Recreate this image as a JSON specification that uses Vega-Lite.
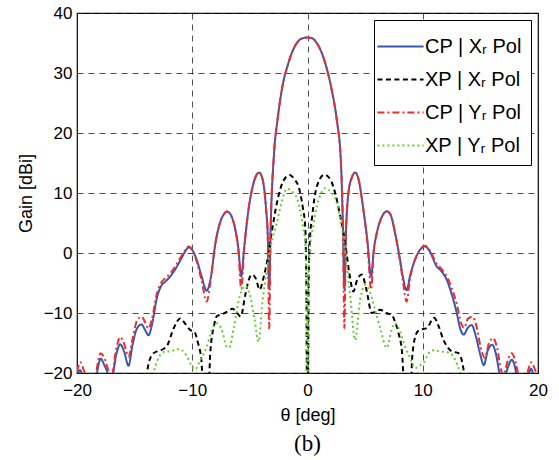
{
  "$schema": "https://vega.github.io/schema/vega-lite/v6.json",
  "width": 461,
  "height": 360,
  "autosize": {"type": "none"},
  "padding": {"left": 77, "top": 13, "right": 21, "bottom": 87},
  "background": "white",
  "config": {
    "font": "Liberation Sans",
    "view": {"stroke": "black", "strokeWidth": 1.2},
    "axis": {
      "labelFont": "Liberation Sans", "labelFontSize": 17, "labelColor": "black",
      "titleFont": "Liberation Sans", "titleFontSize": 18, "titleFontWeight": "normal", "titleColor": "black",
      "domain": false, "ticks": false,
      "grid": true, "gridColor": "#222", "gridDash": [6, 5], "gridWidth": 1, "gridOpacity": 0.8
    },
    "legend": {
      "title": null, "orient": "top-right", "offset": 7,
      "strokeColor": "black", "fillColor": "white", "padding": 9,
      "labelFont": "Liberation Sans", "labelFontSize": 20, "labelColor": "black", "labelOffset": 7,
      "symbolType": "M-1.4,0H1.4", "symbolSize": 1089, "symbolStrokeWidth": 2, "rowPadding": 5, "labelLimit": 250
    }
  },
  "title": {"text": "(b)", "orient": "bottom", "font": "Liberation Serif", "fontSize": 23, "fontWeight": "normal", "color": "black", "offset": 9},
  "data": {"values": [
    {"series":"CP | Xᵣ Pol","theta":-20.0,"gain":-20.8},
    {"series":"CP | Xᵣ Pol","theta":-19.75,"gain":-19.5},
    {"series":"CP | Xᵣ Pol","theta":-19.5,"gain":-20.6},
    {"series":"CP | Xᵣ Pol","theta":-19.0,"gain":-25},
    {"series":"CP | Xᵣ Pol","theta":-18.3,"gain":-20.2},
    {"series":"CP | Xᵣ Pol","theta":-17.95,"gain":-17.6},
    {"series":"CP | Xᵣ Pol","theta":-17.6,"gain":-18.8},
    {"series":"CP | Xᵣ Pol","theta":-17.0,"gain":-21},
    {"series":"CP | Xᵣ Pol","theta":-16.6,"gain":-17},
    {"series":"CP | Xᵣ Pol","theta":-16.25,"gain":-15.2},
    {"series":"CP | Xᵣ Pol","theta":-15.9,"gain":-16.5},
    {"series":"CP | Xᵣ Pol","theta":-15.53,"gain":-18.8},
    {"series":"CP | Xᵣ Pol","theta":-15.2,"gain":-15.5},
    {"series":"CP | Xᵣ Pol","theta":-14.8,"gain":-12.6},
    {"series":"CP | Xᵣ Pol","theta":-14.4,"gain":-11.9},
    {"series":"CP | Xᵣ Pol","theta":-14.1,"gain":-12.8},
    {"series":"CP | Xᵣ Pol","theta":-13.8,"gain":-13.7},
    {"series":"CP | Xᵣ Pol","theta":-13.5,"gain":-12},
    {"series":"CP | Xᵣ Pol","theta":-13.07,"gain":-7.5},
    {"series":"CP | Xᵣ Pol","theta":-12.7,"gain":-5.5},
    {"series":"CP | Xᵣ Pol","theta":-12.35,"gain":-4.8},
    {"series":"CP | Xᵣ Pol","theta":-12.0,"gain":-4.1},
    {"series":"CP | Xᵣ Pol","theta":-11.5,"gain":-2.8},
    {"series":"CP | Xᵣ Pol","theta":-11.0,"gain":-1.1},
    {"series":"CP | Xᵣ Pol","theta":-10.6,"gain":0.3},
    {"series":"CP | Xᵣ Pol","theta":-10.3,"gain":0.95},
    {"series":"CP | Xᵣ Pol","theta":-10.0,"gain":0.5},
    {"series":"CP | Xᵣ Pol","theta":-9.6,"gain":-1.2},
    {"series":"CP | Xᵣ Pol","theta":-9.2,"gain":-3.8},
    {"series":"CP | Xᵣ Pol","theta":-8.75,"gain":-6.3},
    {"series":"CP | Xᵣ Pol","theta":-8.4,"gain":-4.2},
    {"series":"CP | Xᵣ Pol","theta":-8.0,"gain":1.5},
    {"series":"CP | Xᵣ Pol","theta":-7.6,"gain":5.0},
    {"series":"CP | Xᵣ Pol","theta":-7.2,"gain":6.6},
    {"series":"CP | Xᵣ Pol","theta":-7.0,"gain":6.9},
    {"series":"CP | Xᵣ Pol","theta":-6.7,"gain":6.5},
    {"series":"CP | Xᵣ Pol","theta":-6.3,"gain":4.2},
    {"series":"CP | Xᵣ Pol","theta":-6.0,"gain":0.8},
    {"series":"CP | Xᵣ Pol","theta":-5.75,"gain":-3.9},
    {"series":"CP | Xᵣ Pol","theta":-5.5,"gain":0.8},
    {"series":"CP | Xᵣ Pol","theta":-5.1,"gain":7.5},
    {"series":"CP | Xᵣ Pol","theta":-4.7,"gain":11.5},
    {"series":"CP | Xᵣ Pol","theta":-4.4,"gain":13.1},
    {"series":"CP | Xᵣ Pol","theta":-4.2,"gain":13.4},
    {"series":"CP | Xᵣ Pol","theta":-3.9,"gain":12.3},
    {"series":"CP | Xᵣ Pol","theta":-3.6,"gain":7.5},
    {"series":"CP | Xᵣ Pol","theta":-3.45,"gain":3},
    {"series":"CP | Xᵣ Pol","theta":-3.32,"gain":-6},
    {"series":"CP | Xᵣ Pol","theta":-3.2,"gain":4},
    {"series":"CP | Xᵣ Pol","theta":-2.9,"gain":16.7},
    {"series":"CP | Xᵣ Pol","theta":-2.6,"gain":22.2},
    {"series":"CP | Xᵣ Pol","theta":-2.23,"gain":27.2},
    {"series":"CP | Xᵣ Pol","theta":-1.65,"gain":31.7},
    {"series":"CP | Xᵣ Pol","theta":-0.93,"gain":35.0},
    {"series":"CP | Xᵣ Pol","theta":-0.4,"gain":35.8},
    {"series":"CP | Xᵣ Pol","theta":0.0,"gain":35.9},
    {"series":"CP | Xᵣ Pol","theta":0.4,"gain":35.8},
    {"series":"CP | Xᵣ Pol","theta":0.8,"gain":35.0},
    {"series":"CP | Xᵣ Pol","theta":1.53,"gain":31.7},
    {"series":"CP | Xᵣ Pol","theta":2.1,"gain":27.2},
    {"series":"CP | Xᵣ Pol","theta":2.54,"gain":22.2},
    {"series":"CP | Xᵣ Pol","theta":2.89,"gain":15.5},
    {"series":"CP | Xᵣ Pol","theta":3.08,"gain":4},
    {"series":"CP | Xᵣ Pol","theta":3.2,"gain":-6},
    {"series":"CP | Xᵣ Pol","theta":3.33,"gain":3},
    {"series":"CP | Xᵣ Pol","theta":3.55,"gain":10.0},
    {"series":"CP | Xᵣ Pol","theta":3.85,"gain":12.6},
    {"series":"CP | Xᵣ Pol","theta":4.13,"gain":13.4},
    {"series":"CP | Xᵣ Pol","theta":4.4,"gain":12.5},
    {"series":"CP | Xᵣ Pol","theta":4.85,"gain":7.2},
    {"series":"CP | Xᵣ Pol","theta":5.2,"gain":2.0},
    {"series":"CP | Xᵣ Pol","theta":5.52,"gain":-3.9},
    {"series":"CP | Xᵣ Pol","theta":5.75,"gain":0.5},
    {"series":"CP | Xᵣ Pol","theta":6.01,"gain":3.3},
    {"series":"CP | Xᵣ Pol","theta":6.4,"gain":5.8},
    {"series":"CP | Xᵣ Pol","theta":6.88,"gain":6.94},
    {"series":"CP | Xᵣ Pol","theta":7.2,"gain":6.4},
    {"series":"CP | Xᵣ Pol","theta":7.6,"gain":3.3},
    {"series":"CP | Xᵣ Pol","theta":8.0,"gain":-0.8},
    {"series":"CP | Xᵣ Pol","theta":8.3,"gain":-4.2},
    {"series":"CP | Xᵣ Pol","theta":8.6,"gain":-6.2},
    {"series":"CP | Xᵣ Pol","theta":8.9,"gain":-3.8},
    {"series":"CP | Xᵣ Pol","theta":9.33,"gain":-1.1},
    {"series":"CP | Xᵣ Pol","theta":9.8,"gain":0.6},
    {"series":"CP | Xᵣ Pol","theta":10.2,"gain":1.1},
    {"series":"CP | Xᵣ Pol","theta":10.6,"gain":0.3},
    {"series":"CP | Xᵣ Pol","theta":11.2,"gain":-2.2},
    {"series":"CP | Xᵣ Pol","theta":11.6,"gain":-3.0},
    {"series":"CP | Xᵣ Pol","theta":12.08,"gain":-4.45},
    {"series":"CP | Xᵣ Pol","theta":12.5,"gain":-6.8},
    {"series":"CP | Xᵣ Pol","theta":12.95,"gain":-10},
    {"series":"CP | Xᵣ Pol","theta":13.25,"gain":-12.6},
    {"series":"CP | Xᵣ Pol","theta":13.55,"gain":-13.6},
    {"series":"CP | Xᵣ Pol","theta":13.9,"gain":-12.5},
    {"series":"CP | Xᵣ Pol","theta":14.25,"gain":-12.0},
    {"series":"CP | Xᵣ Pol","theta":14.6,"gain":-13.8},
    {"series":"CP | Xᵣ Pol","theta":15.0,"gain":-17},
    {"series":"CP | Xᵣ Pol","theta":15.3,"gain":-18.7},
    {"series":"CP | Xᵣ Pol","theta":15.65,"gain":-16.2},
    {"series":"CP | Xᵣ Pol","theta":16.03,"gain":-15.3},
    {"series":"CP | Xᵣ Pol","theta":16.35,"gain":-16.8},
    {"series":"CP | Xᵣ Pol","theta":16.7,"gain":-20.3},
    {"series":"CP | Xᵣ Pol","theta":17.0,"gain":-21},
    {"series":"CP | Xᵣ Pol","theta":17.4,"gain":-19},
    {"series":"CP | Xᵣ Pol","theta":17.72,"gain":-17.8},
    {"series":"CP | Xᵣ Pol","theta":18.0,"gain":-19},
    {"series":"CP | Xᵣ Pol","theta":18.15,"gain":-20.5},
    {"series":"CP | Xᵣ Pol","theta":18.8,"gain":-23},
    {"series":"CP | Xᵣ Pol","theta":19.15,"gain":-20.5},
    {"series":"CP | Xᵣ Pol","theta":19.4,"gain":-19.3},
    {"series":"CP | Xᵣ Pol","theta":19.65,"gain":-20.5},
    {"series":"CP | Xᵣ Pol","theta":20.0,"gain":-21},

    {"series":"XP | Xᵣ Pol","theta":-14.3,"gain":-25},
    {"series":"XP | Xᵣ Pol","theta":-14.0,"gain":-21},
    {"series":"XP | Xᵣ Pol","theta":-13.8,"gain":-18.5},
    {"series":"XP | Xᵣ Pol","theta":-13.36,"gain":-16.7},
    {"series":"XP | Xᵣ Pol","theta":-12.9,"gain":-16.3},
    {"series":"XP | Xᵣ Pol","theta":-12.5,"gain":-16.0},
    {"series":"XP | Xᵣ Pol","theta":-12.2,"gain":-15.5},
    {"series":"XP | Xᵣ Pol","theta":-11.6,"gain":-12.5},
    {"series":"XP | Xᵣ Pol","theta":-11.05,"gain":-10.9},
    {"series":"XP | Xᵣ Pol","theta":-10.6,"gain":-11.8},
    {"series":"XP | Xᵣ Pol","theta":-10.2,"gain":-12.8},
    {"series":"XP | Xᵣ Pol","theta":-9.8,"gain":-13.2},
    {"series":"XP | Xᵣ Pol","theta":-9.5,"gain":-15},
    {"series":"XP | Xᵣ Pol","theta":-9.2,"gain":-18},
    {"series":"XP | Xᵣ Pol","theta":-9.0,"gain":-25},
    {"series":"XP | Xᵣ Pol","theta":-8.6,"gain":-25},
    {"series":"XP | Xᵣ Pol","theta":-8.45,"gain":-17},
    {"series":"XP | Xᵣ Pol","theta":-8.1,"gain":-12.0},
    {"series":"XP | Xᵣ Pol","theta":-7.85,"gain":-10.5},
    {"series":"XP | Xᵣ Pol","theta":-7.4,"gain":-10.2},
    {"series":"XP | Xᵣ Pol","theta":-7.0,"gain":-9.8},
    {"series":"XP | Xᵣ Pol","theta":-6.5,"gain":-9.3},
    {"series":"XP | Xᵣ Pol","theta":-6.1,"gain":-10.0},
    {"series":"XP | Xᵣ Pol","theta":-5.8,"gain":-10.6},
    {"series":"XP | Xᵣ Pol","theta":-5.4,"gain":-7},
    {"series":"XP | Xᵣ Pol","theta":-5.1,"gain":-4.5},
    {"series":"XP | Xᵣ Pol","theta":-4.8,"gain":-3.6},
    {"series":"XP | Xᵣ Pol","theta":-4.5,"gain":-4.2},
    {"series":"XP | Xᵣ Pol","theta":-4.15,"gain":-6.1},
    {"series":"XP | Xᵣ Pol","theta":-3.8,"gain":-4},
    {"series":"XP | Xᵣ Pol","theta":-3.47,"gain":-1.1},
    {"series":"XP | Xᵣ Pol","theta":-3.1,"gain":3.5},
    {"series":"XP | Xᵣ Pol","theta":-2.66,"gain":8.3},
    {"series":"XP | Xᵣ Pol","theta":-2.1,"gain":12.0},
    {"series":"XP | Xᵣ Pol","theta":-1.56,"gain":13.0},
    {"series":"XP | Xᵣ Pol","theta":-1.1,"gain":12.2},
    {"series":"XP | Xᵣ Pol","theta":-0.78,"gain":11.1},
    {"series":"XP | Xᵣ Pol","theta":-0.4,"gain":7.5},
    {"series":"XP | Xᵣ Pol","theta":-0.2,"gain":4.4},
    {"series":"XP | Xᵣ Pol","theta":-0.1,"gain":-5},
    {"series":"XP | Xᵣ Pol","theta":0.0,"gain":-40},
    {"series":"XP | Xᵣ Pol","theta":0.1,"gain":-5},
    {"series":"XP | Xᵣ Pol","theta":0.2,"gain":2},
    {"series":"XP | Xᵣ Pol","theta":0.4,"gain":6},
    {"series":"XP | Xᵣ Pol","theta":0.81,"gain":11.1},
    {"series":"XP | Xᵣ Pol","theta":1.47,"gain":13.05},
    {"series":"XP | Xᵣ Pol","theta":2.0,"gain":12.2},
    {"series":"XP | Xᵣ Pol","theta":2.4,"gain":10.0},
    {"series":"XP | Xᵣ Pol","theta":2.8,"gain":6.5},
    {"series":"XP | Xᵣ Pol","theta":3.27,"gain":1.7},
    {"series":"XP | Xᵣ Pol","theta":3.6,"gain":-3},
    {"series":"XP | Xᵣ Pol","theta":3.99,"gain":-6.4},
    {"series":"XP | Xᵣ Pol","theta":4.3,"gain":-4.5},
    {"series":"XP | Xᵣ Pol","theta":4.71,"gain":-3.6},
    {"series":"XP | Xᵣ Pol","theta":5.1,"gain":-6},
    {"series":"XP | Xᵣ Pol","theta":5.58,"gain":-10},
    {"series":"XP | Xᵣ Pol","theta":5.9,"gain":-9.8},
    {"series":"XP | Xᵣ Pol","theta":6.3,"gain":-9.45},
    {"series":"XP | Xᵣ Pol","theta":6.8,"gain":-10},
    {"series":"XP | Xᵣ Pol","theta":7.31,"gain":-10.3},
    {"series":"XP | Xᵣ Pol","theta":7.6,"gain":-11.5},
    {"series":"XP | Xᵣ Pol","theta":7.89,"gain":-13.3},
    {"series":"XP | Xᵣ Pol","theta":8.2,"gain":-16.5},
    {"series":"XP | Xᵣ Pol","theta":8.47,"gain":-25},
    {"series":"XP | Xᵣ Pol","theta":8.9,"gain":-25},
    {"series":"XP | Xᵣ Pol","theta":9.1,"gain":-17},
    {"series":"XP | Xᵣ Pol","theta":9.48,"gain":-13.3},
    {"series":"XP | Xᵣ Pol","theta":9.77,"gain":-12.8},
    {"series":"XP | Xᵣ Pol","theta":10.35,"gain":-12.5},
    {"series":"XP | Xᵣ Pol","theta":10.99,"gain":-10.8},
    {"series":"XP | Xᵣ Pol","theta":11.4,"gain":-12.3},
    {"series":"XP | Xᵣ Pol","theta":11.8,"gain":-14.5},
    {"series":"XP | Xᵣ Pol","theta":12.2,"gain":-15.8},
    {"series":"XP | Xᵣ Pol","theta":12.52,"gain":-16.4},
    {"series":"XP | Xᵣ Pol","theta":13.1,"gain":-16.7},
    {"series":"XP | Xᵣ Pol","theta":13.4,"gain":-18},
    {"series":"XP | Xᵣ Pol","theta":13.67,"gain":-21},
    {"series":"XP | Xᵣ Pol","theta":14.0,"gain":-25},

    {"series":"CP | Yᵣ Pol","theta":-20.0,"gain":-19.8},
    {"series":"CP | Yᵣ Pol","theta":-19.7,"gain":-18.2},
    {"series":"CP | Yᵣ Pol","theta":-19.4,"gain":-19.6},
    {"series":"CP | Yᵣ Pol","theta":-19.1,"gain":-21},
    {"series":"CP | Yᵣ Pol","theta":-18.6,"gain":-24},
    {"series":"CP | Yᵣ Pol","theta":-18.3,"gain":-19.5},
    {"series":"CP | Yᵣ Pol","theta":-17.95,"gain":-16.7},
    {"series":"CP | Yᵣ Pol","theta":-17.6,"gain":-17.6},
    {"series":"CP | Yᵣ Pol","theta":-17.2,"gain":-20},
    {"series":"CP | Yᵣ Pol","theta":-17.0,"gain":-20.5},
    {"series":"CP | Yᵣ Pol","theta":-16.6,"gain":-16},
    {"series":"CP | Yᵣ Pol","theta":-16.25,"gain":-14.0},
    {"series":"CP | Yᵣ Pol","theta":-15.9,"gain":-15.2},
    {"series":"CP | Yᵣ Pol","theta":-15.53,"gain":-17.3},
    {"series":"CP | Yᵣ Pol","theta":-15.2,"gain":-14.5},
    {"series":"CP | Yᵣ Pol","theta":-14.8,"gain":-11.3},
    {"series":"CP | Yᵣ Pol","theta":-14.4,"gain":-10.6},
    {"series":"CP | Yᵣ Pol","theta":-14.1,"gain":-11.5},
    {"series":"CP | Yᵣ Pol","theta":-13.8,"gain":-12.6},
    {"series":"CP | Yᵣ Pol","theta":-13.5,"gain":-11},
    {"series":"CP | Yᵣ Pol","theta":-13.07,"gain":-6.8},
    {"series":"CP | Yᵣ Pol","theta":-12.7,"gain":-5.0},
    {"series":"CP | Yᵣ Pol","theta":-12.35,"gain":-4.2},
    {"series":"CP | Yᵣ Pol","theta":-12.0,"gain":-3.6},
    {"series":"CP | Yᵣ Pol","theta":-11.5,"gain":-2.3},
    {"series":"CP | Yᵣ Pol","theta":-11.0,"gain":-0.7},
    {"series":"CP | Yᵣ Pol","theta":-10.6,"gain":0.5},
    {"series":"CP | Yᵣ Pol","theta":-10.3,"gain":1.1},
    {"series":"CP | Yᵣ Pol","theta":-10.0,"gain":0.5},
    {"series":"CP | Yᵣ Pol","theta":-9.6,"gain":-1.5},
    {"series":"CP | Yᵣ Pol","theta":-9.2,"gain":-4.5},
    {"series":"CP | Yᵣ Pol","theta":-8.75,"gain":-8.1},
    {"series":"CP | Yᵣ Pol","theta":-8.4,"gain":-4.5},
    {"series":"CP | Yᵣ Pol","theta":-8.0,"gain":1.5},
    {"series":"CP | Yᵣ Pol","theta":-7.6,"gain":5.0},
    {"series":"CP | Yᵣ Pol","theta":-7.2,"gain":6.6},
    {"series":"CP | Yᵣ Pol","theta":-7.0,"gain":6.9},
    {"series":"CP | Yᵣ Pol","theta":-6.7,"gain":6.5},
    {"series":"CP | Yᵣ Pol","theta":-6.3,"gain":4.2},
    {"series":"CP | Yᵣ Pol","theta":-6.0,"gain":0.5},
    {"series":"CP | Yᵣ Pol","theta":-5.75,"gain":-6.0},
    {"series":"CP | Yᵣ Pol","theta":-5.5,"gain":0.5},
    {"series":"CP | Yᵣ Pol","theta":-5.1,"gain":7.5},
    {"series":"CP | Yᵣ Pol","theta":-4.7,"gain":11.5},
    {"series":"CP | Yᵣ Pol","theta":-4.4,"gain":13.1},
    {"series":"CP | Yᵣ Pol","theta":-4.2,"gain":13.4},
    {"series":"CP | Yᵣ Pol","theta":-3.9,"gain":12.3},
    {"series":"CP | Yᵣ Pol","theta":-3.6,"gain":7.5},
    {"series":"CP | Yᵣ Pol","theta":-3.45,"gain":3},
    {"series":"CP | Yᵣ Pol","theta":-3.32,"gain":-12.6},
    {"series":"CP | Yᵣ Pol","theta":-3.2,"gain":4},
    {"series":"CP | Yᵣ Pol","theta":-2.9,"gain":16.7},
    {"series":"CP | Yᵣ Pol","theta":-2.6,"gain":22.2},
    {"series":"CP | Yᵣ Pol","theta":-2.23,"gain":27.2},
    {"series":"CP | Yᵣ Pol","theta":-1.65,"gain":31.7},
    {"series":"CP | Yᵣ Pol","theta":-0.93,"gain":35.0},
    {"series":"CP | Yᵣ Pol","theta":-0.4,"gain":35.8},
    {"series":"CP | Yᵣ Pol","theta":0.0,"gain":35.9},
    {"series":"CP | Yᵣ Pol","theta":0.4,"gain":35.8},
    {"series":"CP | Yᵣ Pol","theta":0.8,"gain":35.0},
    {"series":"CP | Yᵣ Pol","theta":1.53,"gain":31.7},
    {"series":"CP | Yᵣ Pol","theta":2.1,"gain":27.2},
    {"series":"CP | Yᵣ Pol","theta":2.54,"gain":22.2},
    {"series":"CP | Yᵣ Pol","theta":2.89,"gain":15.5},
    {"series":"CP | Yᵣ Pol","theta":3.08,"gain":4},
    {"series":"CP | Yᵣ Pol","theta":3.2,"gain":-12.5},
    {"series":"CP | Yᵣ Pol","theta":3.33,"gain":3},
    {"series":"CP | Yᵣ Pol","theta":3.55,"gain":10.0},
    {"series":"CP | Yᵣ Pol","theta":3.85,"gain":12.6},
    {"series":"CP | Yᵣ Pol","theta":4.13,"gain":13.4},
    {"series":"CP | Yᵣ Pol","theta":4.4,"gain":12.5},
    {"series":"CP | Yᵣ Pol","theta":4.85,"gain":7.2},
    {"series":"CP | Yᵣ Pol","theta":5.2,"gain":1.5},
    {"series":"CP | Yᵣ Pol","theta":5.52,"gain":-6.1},
    {"series":"CP | Yᵣ Pol","theta":5.75,"gain":0.3},
    {"series":"CP | Yᵣ Pol","theta":6.01,"gain":3.3},
    {"series":"CP | Yᵣ Pol","theta":6.4,"gain":5.8},
    {"series":"CP | Yᵣ Pol","theta":6.88,"gain":6.94},
    {"series":"CP | Yᵣ Pol","theta":7.2,"gain":6.4},
    {"series":"CP | Yᵣ Pol","theta":7.6,"gain":3.3},
    {"series":"CP | Yᵣ Pol","theta":8.0,"gain":-1.0},
    {"series":"CP | Yᵣ Pol","theta":8.3,"gain":-5.0},
    {"series":"CP | Yᵣ Pol","theta":8.6,"gain":-8.1},
    {"series":"CP | Yᵣ Pol","theta":8.9,"gain":-4.2},
    {"series":"CP | Yᵣ Pol","theta":9.33,"gain":-1.1},
    {"series":"CP | Yᵣ Pol","theta":9.8,"gain":0.7},
    {"series":"CP | Yᵣ Pol","theta":10.2,"gain":1.2},
    {"series":"CP | Yᵣ Pol","theta":10.6,"gain":0.5},
    {"series":"CP | Yᵣ Pol","theta":11.2,"gain":-1.8},
    {"series":"CP | Yᵣ Pol","theta":11.6,"gain":-2.6},
    {"series":"CP | Yᵣ Pol","theta":12.08,"gain":-3.9},
    {"series":"CP | Yᵣ Pol","theta":12.5,"gain":-5.8},
    {"series":"CP | Yᵣ Pol","theta":12.95,"gain":-8.5},
    {"series":"CP | Yᵣ Pol","theta":13.3,"gain":-11.5},
    {"series":"CP | Yᵣ Pol","theta":13.6,"gain":-12.5},
    {"series":"CP | Yᵣ Pol","theta":13.9,"gain":-11},
    {"series":"CP | Yᵣ Pol","theta":14.3,"gain":-10.6},
    {"series":"CP | Yᵣ Pol","theta":14.7,"gain":-12.5},
    {"series":"CP | Yᵣ Pol","theta":15.0,"gain":-15.5},
    {"series":"CP | Yᵣ Pol","theta":15.4,"gain":-17.5},
    {"series":"CP | Yᵣ Pol","theta":15.75,"gain":-15},
    {"series":"CP | Yᵣ Pol","theta":16.1,"gain":-14.2},
    {"series":"CP | Yᵣ Pol","theta":16.45,"gain":-15.8},
    {"series":"CP | Yᵣ Pol","theta":16.8,"gain":-19.5},
    {"series":"CP | Yᵣ Pol","theta":17.0,"gain":-20.3},
    {"series":"CP | Yᵣ Pol","theta":17.4,"gain":-17.8},
    {"series":"CP | Yᵣ Pol","theta":17.72,"gain":-16.7},
    {"series":"CP | Yᵣ Pol","theta":18.0,"gain":-17.8},
    {"series":"CP | Yᵣ Pol","theta":18.3,"gain":-20.3},
    {"series":"CP | Yᵣ Pol","theta":18.8,"gain":-23},
    {"series":"CP | Yᵣ Pol","theta":19.15,"gain":-19.5},
    {"series":"CP | Yᵣ Pol","theta":19.45,"gain":-18.2},
    {"series":"CP | Yᵣ Pol","theta":19.75,"gain":-19.5},
    {"series":"CP | Yᵣ Pol","theta":20.0,"gain":-20.5},

    {"series":"XP | Yᵣ Pol","theta":-13.6,"gain":-22},
    {"series":"XP | Yᵣ Pol","theta":-13.36,"gain":-20},
    {"series":"XP | Yᵣ Pol","theta":-13.0,"gain":-17.8},
    {"series":"XP | Yᵣ Pol","theta":-12.64,"gain":-16.7},
    {"series":"XP | Yᵣ Pol","theta":-12.2,"gain":-16.4},
    {"series":"XP | Yᵣ Pol","theta":-11.92,"gain":-16.4},
    {"series":"XP | Yᵣ Pol","theta":-11.4,"gain":-16.1},
    {"series":"XP | Yᵣ Pol","theta":-11.05,"gain":-16.0},
    {"series":"XP | Yᵣ Pol","theta":-10.7,"gain":-16.6},
    {"series":"XP | Yᵣ Pol","theta":-10.47,"gain":-17.2},
    {"series":"XP | Yᵣ Pol","theta":-10.1,"gain":-18.6},
    {"series":"XP | Yᵣ Pol","theta":-9.75,"gain":-19.4},
    {"series":"XP | Yᵣ Pol","theta":-9.3,"gain":-17.8},
    {"series":"XP | Yᵣ Pol","theta":-8.74,"gain":-15.6},
    {"series":"XP | Yᵣ Pol","theta":-8.3,"gain":-12.8},
    {"series":"XP | Yᵣ Pol","theta":-7.87,"gain":-11.7},
    {"series":"XP | Yᵣ Pol","theta":-7.5,"gain":-12.5},
    {"series":"XP | Yᵣ Pol","theta":-7.0,"gain":-15.6},
    {"series":"XP | Yᵣ Pol","theta":-6.8,"gain":-15.8},
    {"series":"XP | Yᵣ Pol","theta":-6.4,"gain":-12.5},
    {"series":"XP | Yᵣ Pol","theta":-5.85,"gain":-7},
    {"series":"XP | Yᵣ Pol","theta":-5.4,"gain":-5.5},
    {"series":"XP | Yᵣ Pol","theta":-5.0,"gain":-7},
    {"series":"XP | Yᵣ Pol","theta":-4.6,"gain":-11},
    {"series":"XP | Yᵣ Pol","theta":-4.25,"gain":-14.8},
    {"series":"XP | Yᵣ Pol","theta":-3.9,"gain":-8},
    {"series":"XP | Yᵣ Pol","theta":-3.53,"gain":-2.8},
    {"series":"XP | Yᵣ Pol","theta":-3.2,"gain":1},
    {"series":"XP | Yᵣ Pol","theta":-2.66,"gain":5.0},
    {"series":"XP | Yᵣ Pol","theta":-2.2,"gain":8.8},
    {"series":"XP | Yᵣ Pol","theta":-1.79,"gain":10.7},
    {"series":"XP | Yᵣ Pol","theta":-1.3,"gain":10.2},
    {"series":"XP | Yᵣ Pol","theta":-0.78,"gain":8.3},
    {"series":"XP | Yᵣ Pol","theta":-0.4,"gain":4.5},
    {"series":"XP | Yᵣ Pol","theta":-0.2,"gain":1.7},
    {"series":"XP | Yᵣ Pol","theta":-0.08,"gain":-8},
    {"series":"XP | Yᵣ Pol","theta":0.0,"gain":-40},
    {"series":"XP | Yᵣ Pol","theta":0.08,"gain":-8},
    {"series":"XP | Yᵣ Pol","theta":0.2,"gain":0.5},
    {"series":"XP | Yᵣ Pol","theta":0.5,"gain":4.5},
    {"series":"XP | Yᵣ Pol","theta":0.81,"gain":7.8},
    {"series":"XP | Yᵣ Pol","theta":1.2,"gain":10.0},
    {"series":"XP | Yᵣ Pol","theta":1.53,"gain":10.8},
    {"series":"XP | Yᵣ Pol","theta":2.0,"gain":10.2},
    {"series":"XP | Yᵣ Pol","theta":2.54,"gain":8.3},
    {"series":"XP | Yᵣ Pol","theta":2.9,"gain":5},
    {"series":"XP | Yᵣ Pol","theta":3.27,"gain":0},
    {"series":"XP | Yᵣ Pol","theta":3.7,"gain":-7},
    {"series":"XP | Yᵣ Pol","theta":4.13,"gain":-14.5},
    {"series":"XP | Yᵣ Pol","theta":4.57,"gain":-7.8},
    {"series":"XP | Yᵣ Pol","theta":5.0,"gain":-5.3},
    {"series":"XP | Yᵣ Pol","theta":5.4,"gain":-6.5},
    {"series":"XP | Yᵣ Pol","theta":5.87,"gain":-9.45},
    {"series":"XP | Yᵣ Pol","theta":6.3,"gain":-12.5},
    {"series":"XP | Yᵣ Pol","theta":6.88,"gain":-15.8},
    {"series":"XP | Yᵣ Pol","theta":7.3,"gain":-12.8},
    {"series":"XP | Yᵣ Pol","theta":7.6,"gain":-11.7},
    {"series":"XP | Yᵣ Pol","theta":7.9,"gain":-12.5},
    {"series":"XP | Yᵣ Pol","theta":8.47,"gain":-15.6},
    {"series":"XP | Yᵣ Pol","theta":8.9,"gain":-17.5},
    {"series":"XP | Yᵣ Pol","theta":9.34,"gain":-19.2},
    {"series":"XP | Yᵣ Pol","theta":9.7,"gain":-18.8},
    {"series":"XP | Yᵣ Pol","theta":10.06,"gain":-18.3},
    {"series":"XP | Yᵣ Pol","theta":10.64,"gain":-16.4},
    {"series":"XP | Yᵣ Pol","theta":11.0,"gain":-16.2},
    {"series":"XP | Yᵣ Pol","theta":11.5,"gain":-16.4},
    {"series":"XP | Yᵣ Pol","theta":12.0,"gain":-16.5},
    {"series":"XP | Yᵣ Pol","theta":12.37,"gain":-16.7},
    {"series":"XP | Yᵣ Pol","theta":12.81,"gain":-17.8},
    {"series":"XP | Yᵣ Pol","theta":13.24,"gain":-20},
    {"series":"XP | Yᵣ Pol","theta":13.5,"gain":-22}
  ]},
  "mark": {"type": "line", "clip": true, "strokeWidth": 2, "interpolate": "monotone"},
  "encoding": {
    "x": {
      "field": "theta", "type": "quantitative",
      "scale": {"domain": [-20, 20], "nice": false, "zero": false},
      "axis": {"values": [-20, -10, 0, 10, 20], "title": "θ [deg]", "labelPadding": 9, "titlePadding": 8, "labelFlush": false}
    },
    "y": {
      "field": "gain", "type": "quantitative",
      "scale": {"domain": [-20, 40], "nice": false, "zero": false},
      "axis": {"values": [-20, -10, 0, 10, 20, 30, 40], "title": "Gain [dBi]", "labelPadding": 5, "titlePadding": 8, "labelFlush": false}
    },
    "color": {
      "field": "series", "type": "nominal",
      "scale": {"domain": ["CP | Xᵣ Pol", "XP | Xᵣ Pol", "CP | Yᵣ Pol", "XP | Yᵣ Pol"], "range": ["#3a56b0", "#000000", "#ee2c2c", "#66cc33"]},
      "legend": {"title": null}
    },
    "strokeDash": {
      "field": "series", "type": "nominal",
      "scale": {"domain": ["CP | Xᵣ Pol", "XP | Xᵣ Pol", "CP | Yᵣ Pol", "XP | Yᵣ Pol"], "range": [[1, 0], [5, 3.5], [7, 3, 2, 3], [2, 3]]},
      "legend": {"title": null}
    }
  }
}
